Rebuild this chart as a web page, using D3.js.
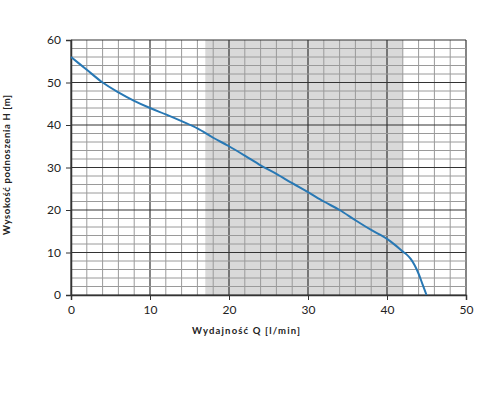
<!DOCTYPE html>
<html><head><meta charset="utf-8">
<script src="https://cdn.jsdelivr.net/npm/d3@7"></script>
<style>body{margin:0;background:#fff}</style>
</head><body>
<svg id="c" width="480" height="395"></svg>
<script>
const flow = [0,2,4,6,8,10,12,14,16,18,20,22,24,26,28,30,32,34,36,38,40,41,42,42.5,43,43.5,44,44.5,45];
const head = [56,53,50,47.7,45.7,44,42.5,40.9,39.2,37,35,32.8,30.5,28.5,26.3,24.2,22,20,17.6,15.3,13.2,11.8,10.2,9.5,8.5,7,5,2.5,0];
const shadeRange = [17, 42];
const xTicks = [0,10,20,30,40,50];
const yTicks = [0,10,20,30,40,50,60];
const xMinor = d3.range(0, 51, 2);
const yMinor = d3.range(0, 61, 2);

const svg = d3.select("#c");
const L = 71, R = 466, T = 40, B = 295;
const x = d3.scaleLinear().domain([0,50]).range([L,R]);
const y = d3.scaleLinear().domain([0,60]).range([B,T]);
const font = "Lato, 'Open Sans', sans-serif";

svg.append("rect").attr("x", x(shadeRange[0])).attr("y", T)
  .attr("width", x(shadeRange[1]) - x(shadeRange[0])).attr("height", B - T)
  .attr("fill", "#d9d9d9");

const g = svg.append("g");
g.selectAll(".vx").data(xMinor).join("line")
  .attr("x1", d=>x(d)).attr("x2", d=>x(d)).attr("y1", T).attr("y2", B)
  .attr("stroke", d=> d%10===0 ? "#333" : "#9a9a9a").attr("stroke-width", d=> d%10===0 ? 1.2 : 1);
g.selectAll(".hy").data(yMinor).join("line")
  .attr("y1", d=>y(d)).attr("y2", d=>y(d)).attr("x1", L).attr("x2", R)
  .attr("stroke", d=> d%10===0 ? "#333" : "#9a9a9a").attr("stroke-width", d=> d%10===0 ? 1.2 : 1);

const xa = svg.append("g").attr("transform", `translate(0,${B})`)
  .call(d3.axisBottom(x).tickValues(xTicks).tickSize(5).tickPadding(5));
const ya = svg.append("g").attr("transform", `translate(${L},0)`)
  .call(d3.axisLeft(y).tickValues(yTicks).tickSize(5).tickPadding(5));
[xa, ya].forEach(a => {
  a.select(".domain").attr("stroke", "#333").attr("stroke-width", 1.5);
  a.selectAll(".tick line").attr("stroke", "#333");
  a.selectAll("text").attr("font-family", font).attr("font-size", 12).attr("fill", "#222");
});

const line = d3.line().x((d,i)=>x(flow[i])).y((d,i)=>y(head[i])).curve(d3.curveMonotoneX);
svg.append("path").datum(head).attr("d", line)
  .attr("fill", "none").attr("stroke", "#2878b4").attr("stroke-width", 2);

svg.append("text").attr("x", 246).attr("y", 334).attr("text-anchor", "middle")
  .attr("font-family", font).attr("font-weight", "bold").attr("font-size", 9.5).attr("fill", "#222")
  .attr("textLength", 108).attr("lengthAdjust", "spacing")
  .text("Wydajność Q [l/min]");
svg.append("text").attr("transform", `translate(10,165) rotate(-90)`).attr("text-anchor", "middle")
  .attr("font-family", font).attr("font-weight", "bold").attr("font-size", 9.5).attr("fill", "#222")
  .attr("textLength", 140).attr("lengthAdjust", "spacing")
  .text("Wysokość podnoszenia H [m]");
</script>
</body></html>
